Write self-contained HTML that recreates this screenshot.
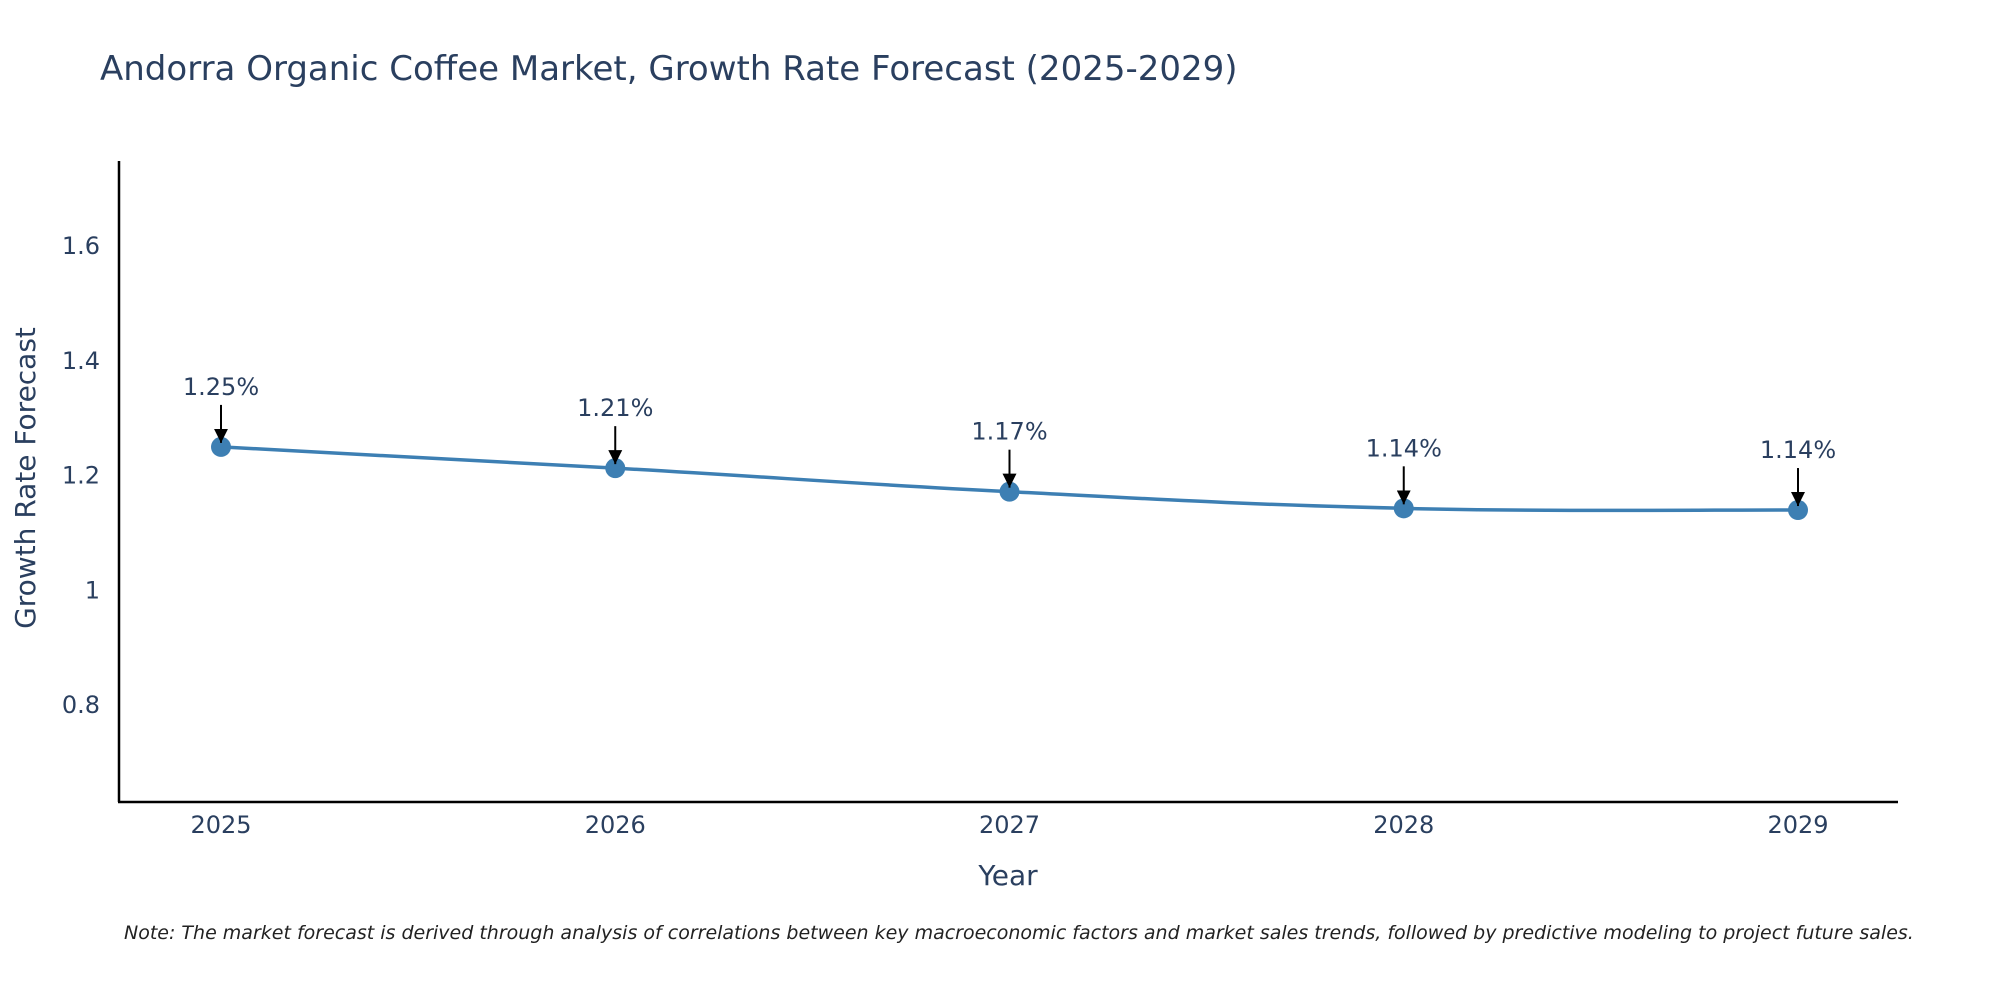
<!DOCTYPE html>
<html><head><meta charset="utf-8"><style>
html,body{margin:0;padding:0;background:#fff;}
svg{display:block;font-family:"DejaVu Sans","Liberation Sans",sans-serif;}
</style></head><body>
<svg id="chart" width="2000" height="1000" viewBox="0 0 2000 1000">
<defs><marker id="ah" viewBox="0 0 10 10" refX="5" refY="10" markerWidth="14" markerHeight="14" markerUnits="userSpaceOnUse" orient="0"><path d="M0,0 L10,0 L5,10 Z" fill="#000"/></marker></defs>
<text x="100" y="80" font-size="34" fill="#2a3f5f">Andorra Organic Coffee Market, Growth Rate Forecast (2025-2029)</text>
<g id="yticks"></g>
<g id="xticks"></g>
<line x1="119" y1="161" x2="119" y2="802" stroke="#000" stroke-width="2.5"/>
<line x1="118" y1="802" x2="1898" y2="802" stroke="#000" stroke-width="2.5"/>
<path id="line" fill="none" stroke="#3d7fb3" stroke-width="3.5"/>
<g id="points"></g>
<g id="annots"></g>
<text x="1008" y="885" font-size="28" fill="#2a3f5f" text-anchor="middle">Year</text>
<text transform="translate(35,478) rotate(-90)" font-size="28" fill="#2a3f5f" text-anchor="middle">Growth Rate Forecast</text>
<text x="124" y="939" font-size="19" font-style="italic" fill="#222">Note: The market forecast is derived through analysis of correlations between key macroeconomic factors and market sales trends, followed by predictive modeling to project future sales.</text>
</svg>
<script>
const years = [2025, 2026, 2027, 2028, 2029];
const growth = [1.25, 1.213, 1.172, 1.143, 1.14];
const labels = ["1.25%", "1.21%", "1.17%", "1.14%", "1.14%"];
const yTicks = [0.8, 1, 1.2, 1.4, 1.6];
const yTickLabels = ["0.8", "1", "1.2", "1.4", "1.6"];

const NS = "http://www.w3.org/2000/svg";
function xs(v){ return 221 + (v - 2025) * 394.25; }
function ys(v){ return 246 + (1.6 - v) / 0.2 * 114.8; }
function mk(tag, attrs, parent){ const e = document.createElementNS(NS, tag); for (const k in attrs) e.setAttribute(k, attrs[k]); parent.appendChild(e); return e; }

const yg = document.getElementById('yticks');
yTicks.forEach((t, i) => {
  const e = mk('text', {x: 100, y: ys(t) + 8, 'font-size': 24, fill: '#2a3f5f', 'text-anchor': 'end'}, yg);
  e.textContent = yTickLabels[i];
  
  
});
const xg = document.getElementById('xticks');
years.forEach(y => {
  const e = mk('text', {x: xs(y), y: 833, 'font-size': 24, fill: '#2a3f5f', 'text-anchor': 'middle'}, xg);
  e.textContent = String(y);
  
  
});

const P = years.map((y, i) => [xs(y), ys(growth[i])]);
let d = "M" + P[0][0] + "," + P[0][1];
for (let i = 0; i < P.length - 1; i++) {
  const p0 = P[Math.max(0, i - 1)], p1 = P[i], p2 = P[i + 1], p3 = P[Math.min(P.length - 1, i + 2)];
  const t = 0.6 / 3;
  const c1 = [p1[0] + (p2[0] - p0[0]) * t, p1[1] + (p2[1] - p0[1]) * t];
  const c2 = [p2[0] - (p3[0] - p1[0]) * t, p2[1] - (p3[1] - p1[1]) * t];
  d += " C" + c1.join(",") + " " + c2.join(",") + " " + p2.join(",");
}
document.getElementById('line').setAttribute('d', d);

const pg = document.getElementById('points');
const ag = document.getElementById('annots');
P.forEach((p, i) => {
  const c = mk('circle', {cx: p[0], cy: p[1], r: 10, fill: '#3d7fb3'}, pg);
  
  
  const l = mk('line', {x1: p[0], y1: p[1] - 42, x2: p[0], y2: p[1] - 4, stroke: '#000', 'stroke-width': 2, 'marker-end': 'url(#ah)'}, ag);
  
  
  const t = mk('text', {x: p[0], y: p[1] - 52, 'font-size': 24, fill: '#2a3f5f', 'text-anchor': 'middle'}, ag);
  t.textContent = labels[i];
  
  
});
</script>
</body></html>
